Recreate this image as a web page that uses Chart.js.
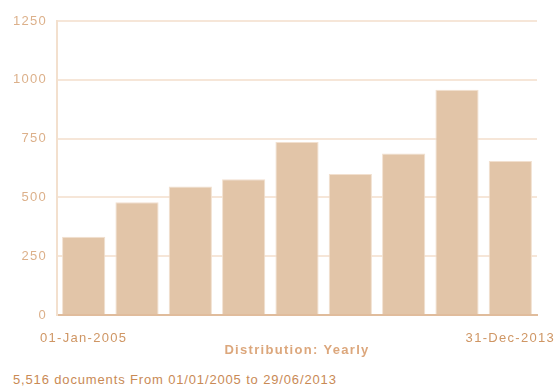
<!DOCTYPE html>
<html>
<head>
<meta charset="utf-8">
<script src="https://cdn.jsdelivr.net/npm/chart.js@4.4.1/dist/chart.umd.min.js"></script>
<style>
  body { margin: 0; background: #fff; }
  .wrap { position: relative; width: 558px; height: 387px; }
  canvas { position: absolute; left: 0; top: 0; }
  .footer {
    position: absolute;
    left: 13px;
    top: 372px;
    font: 13px "Liberation Sans", Arial, sans-serif;
    letter-spacing: 0.85px;
    color: #c98a55;
    white-space: nowrap;
  }
</style>
</head>
<body>
<div class="wrap">
  <canvas id="chart" width="558" height="362"></canvas>
  <div class="footer">5,516 documents From 01/01/2005 to 29/06/2013</div>
</div>
<script>
const years = ['2005', '2006', '2007', '2008', '2009', '2010', '2011', '2012', '2013'];
const counts = [333, 479, 546, 577, 736, 600, 687, 958, 655];
const edgeLabels = ['01-Jan-2005', '31-Dec-2013'];
const yTicks = [0, 250, 500, 750, 1000, 1250];

// canvas text gets a little tracking, like the rest of the page
const spacing = {
  id: 'spacing',
  beforeUpdate(chart) { chart.ctx.letterSpacing = '1.3px'; },
  beforeDraw(chart) { chart.ctx.letterSpacing = '1.3px'; }
};

const font = '"Liberation Sans", Arial, sans-serif';

new Chart(document.getElementById('chart'), {
  type: 'bar',
  data: {
    labels: years,
    datasets: [{
      data: counts,
      backgroundColor: '#e2c5a8',
      borderColor: '#f2e0cf',
      borderWidth: 1,
      categoryPercentage: 1,
      barPercentage: 0.81
    }]
  },
  options: {
    responsive: false,
    animation: false,
    layout: { padding: { left: 0, right: 21, top: 21, bottom: 0 } },
    plugins: { legend: { display: false }, tooltip: { enabled: false } },
    scales: {
      x: {
        grid: { display: false, drawTicks: false },
        border: { color: '#e0bc9c', width: 2 },
        ticks: {
          autoSkip: false,
          maxRotation: 0,
          padding: 16,
          color: '#cf9664',
          font: { family: font, size: 13 },
          callback: (v, i) => i === 0 ? edgeLabels[0] : (i === years.length - 1 ? edgeLabels[1] : '')
        },
        title: {
          display: true,
          text: 'Distribution: Yearly',
          color: '#dca77c',
          padding: { top: 0, bottom: 4 },
          font: { family: font, size: 13, weight: 'bold' }
        },
        afterFit(scale) {
          // edge labels may hang past the plot, don't shrink it for them
          scale.height = 47;
          scale.paddingLeft = 0;
          scale.paddingRight = 0;
        }
      },
      y: {
        min: 0,
        max: 1250,
        afterBuildTicks(scale) { scale.ticks = yTicks.map(v => ({ value: v })); },
        grid: { color: '#f6e6d8', lineWidth: 2, drawTicks: false },
        border: { color: '#f3e0ce', width: 2 },
        ticks: {
          padding: 10,
          color: '#dcb08a',
          font: { family: font, size: 13 },
          callback: v => String(v)
        },
        afterFit(scale) { scale.width = 57; }
      }
    }
  },
  plugins: [spacing]
});
</script>
</body>
</html>
